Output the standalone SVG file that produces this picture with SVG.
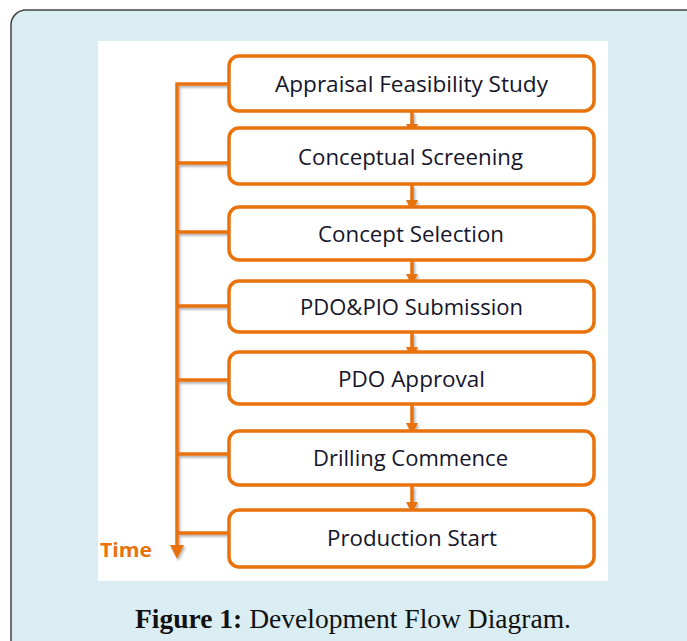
<svg xmlns="http://www.w3.org/2000/svg" width="687" height="641" viewBox="0 0 687 641">
<defs>
<style>
.box{fill:#ffffff;stroke:#e8720c;stroke-width:3.5}
.ln{stroke:#e8720c;stroke-width:3.5;fill:none}
.hd{fill:#e8720c}
.lbl{font-family:"Open Sans","Liberation Sans",sans-serif;font-size:21.5px;fill:#15152a;text-anchor:middle}
</style>
<filter id="sh" x="-20%" y="-20%" width="140%" height="140%">
<feDropShadow dx="1.5" dy="2" stdDeviation="1.2" flood-color="#000" flood-opacity="0.3"/>
</filter>
</defs>
<rect x="11" y="10" width="700" height="650" rx="15" fill="#d9edf2" stroke="#444" stroke-width="1.5"/>
<rect x="98" y="41" width="510" height="540" fill="#ffffff"/>
<g id="connectors" filter="url(#sh)">
<path class="ln" d="M229 84H177V548"/>
<path class="ln" d="M177 163H229M177 232H229M177 306H229M177 380H229M177 454H229M177 533H229"/>
<polygon class="hd" points="170,545 184,545 177,559"/>
<path class="ln" d="M412 112V125M412 185V200M412 260V275M412 333V348M412 405V424M412 486V503"/>
<polygon class="hd" points="406,124 418,124 412,135"/>
<polygon class="hd" points="406,200 418,200 412,212"/>
<polygon class="hd" points="406,274 418,274 412,285"/>
<polygon class="hd" points="406,347 418,347 412,359"/>
<polygon class="hd" points="406,423 418,423 412,435"/>
<polygon class="hd" points="406,502 418,502 412,513"/>
</g>
<g id="n1"><rect class="box" x="229" y="56" width="365" height="55" rx="10"/><text class="lbl" x="411.5" y="92" textLength="273" lengthAdjust="spacingAndGlyphs">Appraisal Feasibility Study</text></g>
<g id="n2"><rect class="box" x="229" y="128" width="365" height="56" rx="10"/><text class="lbl" x="410.5" y="165" textLength="225" lengthAdjust="spacingAndGlyphs">Conceptual Screening</text></g>
<g id="n3"><rect class="box" x="229" y="207" width="365" height="53" rx="10"/><text class="lbl" x="411" y="242" textLength="186" lengthAdjust="spacingAndGlyphs">Concept Selection</text></g>
<g id="n4"><rect class="box" x="229" y="281" width="365" height="51" rx="10"/><text class="lbl" x="411.5" y="315" textLength="223" lengthAdjust="spacingAndGlyphs">PDO&amp;PIO Submission</text></g>
<g id="n5"><rect class="box" x="229" y="352" width="365" height="52" rx="10"/><text class="lbl" x="411.5" y="387" textLength="147" lengthAdjust="spacingAndGlyphs">PDO Approval</text></g>
<g id="n6"><rect class="box" x="229" y="431" width="365" height="54" rx="10"/><text class="lbl" x="410.5" y="466" textLength="195" lengthAdjust="spacingAndGlyphs">Drilling Commence</text></g>
<g id="n7"><rect class="box" x="229" y="510" width="365" height="57" rx="10"/><text class="lbl" x="412" y="546" textLength="170" lengthAdjust="spacingAndGlyphs">Production Start</text></g>
<text x="100" y="557" font-family="'Open Sans','Liberation Sans',sans-serif" font-weight="bold" font-size="20" fill="#e8720c" textLength="52" lengthAdjust="spacingAndGlyphs">Time</text>
<text x="135" y="628" font-family="'Liberation Serif',serif" font-size="27" fill="#111" textLength="436" lengthAdjust="spacingAndGlyphs"><tspan font-weight="bold">Figure 1:</tspan> Development Flow Diagram.</text>
</svg>
